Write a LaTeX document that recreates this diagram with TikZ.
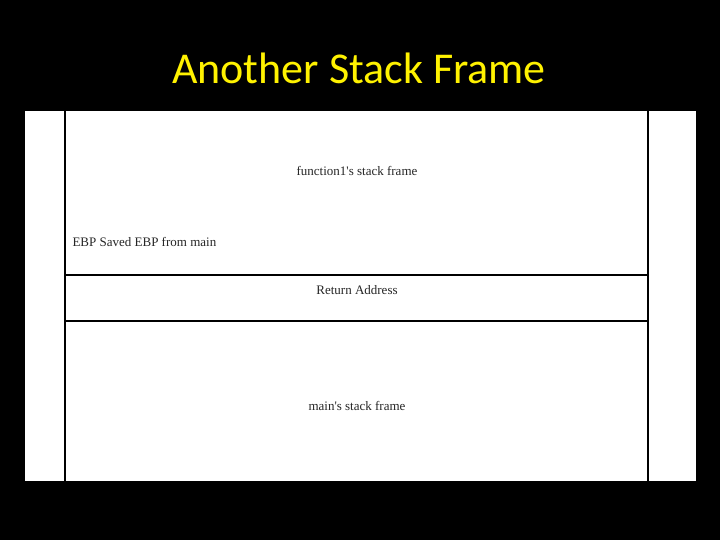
\documentclass[tikz,border=0pt]{standalone}
\usepackage{fontspec}
\setmainfont{Liberation Serif}
\newfontfamily\titlefont{Carlito}
\begin{document}
\begin{tikzpicture}[x=1pt,y=1pt,
  lbl/.style={font=\fontsize{13}{15}\selectfont, text=black!85},
  rule/.style={draw=black, line width=2pt}]
\fill[black] (0,0) rectangle (720,540);
\useasboundingbox (0,0) rectangle (720,540);
\node[text=yellow, font=\titlefont\fontsize{44}{52}\selectfont] (title) at (359,472) {Another Stack Frame};
\fill[white] (25,59) rectangle (696,429);
\coordinate (tl) at (65,429); \coordinate (bl) at (65,59);
\coordinate (tr) at (648,429); \coordinate (br) at (648,59);
\coordinate (h1l) at (65,265); \coordinate (h1r) at (648,265);
\coordinate (h2l) at (65,219); \coordinate (h2r) at (648,219);
\draw[rule] (tl) -- (bl);
\draw[rule] (tr) -- (br);
\draw[rule] (h1l) -- (h1r);
\draw[rule] (h2l) -- (h2r);
\node[lbl] (f1) at (357,369) {function1\textquotesingle s stack frame};
\node[lbl, anchor=west] (ebp) at (69,298) {EBP Saved EBP from main};
\node[lbl] (ret) at (357,250) {Return Address};
\node[lbl] (mainf) at (357,134) {main\textquotesingle s stack frame};
\end{tikzpicture}
\end{document}
